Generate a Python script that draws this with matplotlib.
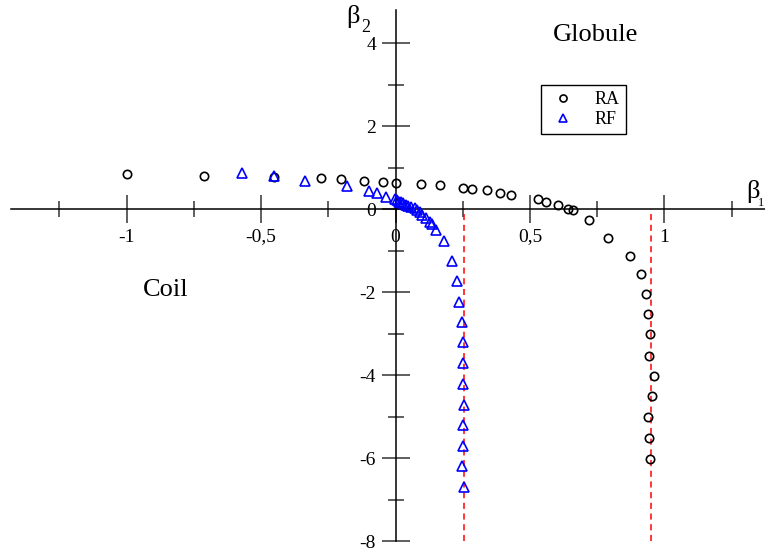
import matplotlib
matplotlib.use('Agg')
import matplotlib.pyplot as plt
from matplotlib.ticker import MultipleLocator, FixedLocator, FixedFormatter

plt.rcParams['font.family'] = 'Liberation Serif'
plt.rcParams['axes.unicode_minus'] = False

# RA points
ra_x = [-1.0, -0.713, -0.452, -0.278, -0.201, -0.119, -0.047, 0.0, 0.095, 0.167,
        0.252, 0.283, 0.342, 0.388, 0.430, 0.530, 0.561, 0.603, 0.641, 0.662,
        0.721, 0.789, 0.873, 0.912, 0.932, 0.939, 0.947, 0.942, 0.960, 0.954,
        0.939, 0.944, 0.948]
ra_y = [0.84, 0.80, 0.78, 0.74, 0.72, 0.68, 0.66, 0.64, 0.60, 0.58,
        0.51, 0.49, 0.45, 0.40, 0.35, 0.24, 0.17, 0.11, 0.01, -0.03,
        -0.27, -0.70, -1.12, -1.57, -2.05, -2.54, -3.02, -3.53, -4.02, -4.51,
        -5.02, -5.52, -6.02]

# RF points
rf_x = [-0.571, -0.452, -0.338, -0.180, -0.098, -0.067, -0.035, -0.002, 0.005, 0.013,
        0.020, 0.028, 0.038, 0.048, 0.059, 0.071, 0.080, 0.090, 0.100, 0.115,
        0.127, 0.137, 0.152, 0.182, 0.209, 0.230, 0.238, 0.247, 0.252, 0.251,
        0.252, 0.253, 0.252, 0.252, 0.249, 0.256]
rf_y = [0.86, 0.80, 0.68, 0.56, 0.44, 0.38, 0.30, 0.24, 0.21, 0.18,
        0.16, 0.14, 0.11, 0.08, 0.05, 0.02, -0.02, -0.06, -0.13, -0.22,
        -0.31, -0.37, -0.50, -0.78, -1.25, -1.73, -2.23, -2.72, -3.21, -3.72,
        -4.22, -4.72, -5.20, -5.70, -6.19, -6.69]

# asymptotes
asym_x = [0.255, 0.95]

xticks = [-1, -0.5, 0, 0.5, 1]
xticklabels = ['-1', '-0,5', '0', '0,5', '1']
yticks = [-8, -6, -4, -2, 0, 2, 4]
yticklabels = ['-8', '-6', '-4', '-2', '0', '2', '4']

W, H = 765, 552
fig = plt.figure(figsize=(W / 100, H / 100), dpi=100)
ax = fig.add_axes([11 / W, 11 / H, 769 / W, 531 / H])
ax.set_xlim(-1.43, 1.43)
ax.set_ylim(-8, 4.8)

for s in ['top', 'right']:
    ax.spines[s].set_visible(False)
ax.spines['left'].set_position(('data', 0))
ax.spines['bottom'].set_position(('data', 0))
for s in ['left', 'bottom']:
    ax.spines[s].set_linewidth(1.1)

ax.xaxis.set_major_locator(FixedLocator(xticks))
ax.xaxis.set_major_formatter(FixedFormatter(xticklabels))
ax.xaxis.set_minor_locator(MultipleLocator(0.25))
ax.yaxis.set_major_locator(FixedLocator(yticks))
ax.yaxis.set_major_formatter(FixedFormatter(yticklabels))
ax.yaxis.set_minor_locator(MultipleLocator(1))
ax.tick_params(which='major', direction='inout', length=20, width=1.1,
               color='#333333', labelsize=14, pad=4)
ax.tick_params(which='minor', direction='inout', length=11, width=1.1,
               color='#333333')

for x in asym_x:
    ax.plot([x, x], [-8, 0], color='red', lw=1.1, dashes=(4, 3), zorder=2)

ax.plot(ra_x, ra_y, 'o', ms=6, mfc='none', mec='black', mew=1.2,
        label='RA', zorder=3, clip_on=False)
ax.plot(rf_x, rf_y, '^', ms=7, mfc='none', mec='blue', mew=1.2,
        label='RF', zorder=4, clip_on=False)

leg = ax.legend(loc='upper left', bbox_to_anchor=(541 / W, 1 - 85 / H),
                bbox_transform=fig.transFigure, fontsize=13, frameon=True,
                fancybox=False, framealpha=1, edgecolor='black',
                markerscale=0.85, handlelength=1.7, handletextpad=0.9,
                borderpad=0.35, labelspacing=0.15, borderaxespad=0)
leg.get_frame().set_linewidth(1.0)

# phase labels
fig.text(596 / W, 1 - 35 / H, 'Globule', fontsize=19, ha='center', va='center')
fig.text(166 / W, 1 - 290 / H, 'Coil', fontsize=19, ha='center', va='center')

# axis names
fig.text(346 / W, 1 - 23 / H, 'β', fontsize=19, ha='left', va='baseline')
fig.text(361 / W, 1 - 32 / H, '2', fontsize=13, ha='left', va='baseline')
fig.text(746 / W, 1 - 198 / H, 'β', fontsize=19, ha='left', va='baseline')
fig.text(758 / W, 1 - 206 / H, '1', fontsize=9, ha='left', va='baseline')

plt.savefig('out.png', dpi=100)
